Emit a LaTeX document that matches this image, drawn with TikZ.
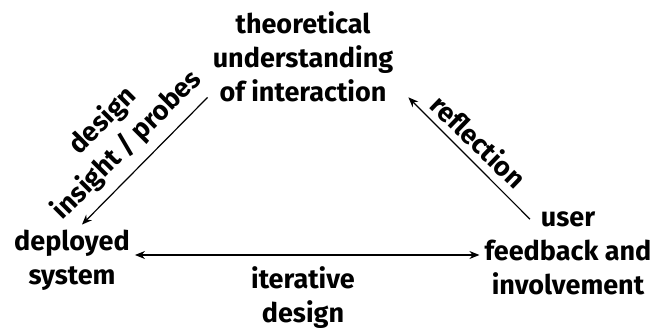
\documentclass[tikz,border=0pt]{standalone}
\usepackage{fontspec}
\setmainfont{Fira Sans}
\usetikzlibrary{arrows.meta,positioning}
\tikzset{
  concept/.style={align=center, font=\fontsize{27}{34}\selectfont\bfseries, inner sep=5pt},
  edgelab/.style={align=center, font=\fontsize{27}{34}\selectfont\bfseries, inner sep=0pt},
  flow/.style={-{Stealth[length=10pt,width=8pt]}, line width=1.2pt},
  twoway/.style={{Stealth[length=10pt,width=8pt]}-{Stealth[length=10pt,width=8pt]}, line width=1.2pt}
}

\begin{document}
\begin{tikzpicture}[x=1pt,y=1pt]
  \useasboundingbox (0,0) rectangle (657,329);
  % corner concepts
  \node[concept] (theory) at (303,272) {theoretical\\understanding\\of interaction};
  \node[concept] (deployed) at (72,69) {deployed\\system};
  \node[concept] (user) at (568,76) {user\\feedback and\\involvement};

  % design insight goes down to the system
  \draw[flow] ([yshift=10pt]theory.south west) -- ([xshift=10pt]deployed.north);
  \node[edgelab, rotate=45] (insight) at (115,196) {design\\insight / probes};

  % reflection goes back up to theory
  \draw[flow] ([shift={(-38pt,-13pt)}]user.north) -- ([shift={(10pt,10pt)}]theory.south east);
  \node[edgelab, rotate=-44] (reflect) at (479,188) {reflection};

  % iterative design between system and users
  \draw[twoway] ([yshift=5pt]deployed.east) -- ([yshift=5pt]deployed.east -| user.west);
  \node[edgelab] (iter) at (303,31) {iterative\\design};
\end{tikzpicture}
\end{document}
